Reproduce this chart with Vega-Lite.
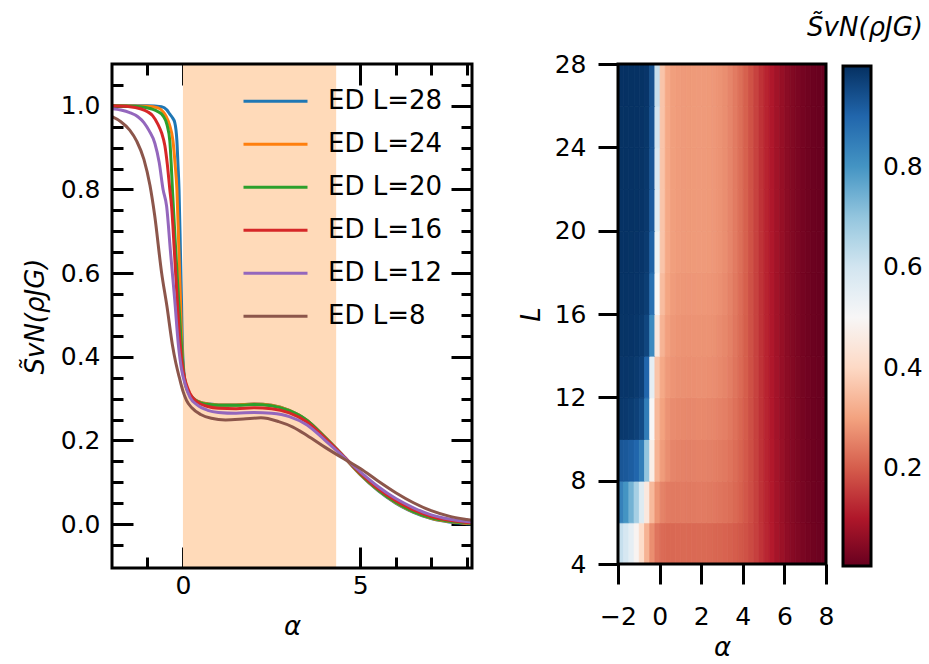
{
  "$schema": "https://vega.github.io/schema/vega-lite/v6.json",
  "background": "white",
  "padding": {"left": 20, "top": 13, "right": 5, "bottom": 5},
  "bounds": "flush",
  "spacing": 146,
  "config": {
    "font": "DejaVu Sans",
    "view": {"stroke": "black", "strokeWidth": 3},
    "style": {"cell": {"strokeForeground": true}},
    "axis": {"domain": false, "grid": false, "labelFlush": false, "tickColor": "black", "tickWidth": 3, "labelFont": "DejaVu Sans", "labelFontSize": 25, "labelColor": "black", "titleFont": "DejaVu Sans", "titleFontSize": 26, "titleFontWeight": "normal", "titleColor": "black"},
    "legend": {"labelFont": "DejaVu Sans", "labelColor": "black", "titleFont": "DejaVu Sans", "titleColor": "black", "titleFontWeight": "normal"}
  },
  "datasets": {
    "shade": [{"a0": 0, "a1": 4.32}],
    "curves": [
      {"s":"ED L=28","a":-2,"v":1.0},{"s":"ED L=28","a":-1,"v":1.0},{"s":"ED L=28","a":-0.6,"v":0.998},{"s":"ED L=28","a":-0.45,"v":0.99},{"s":"ED L=28","a":-0.37,"v":0.98},{"s":"ED L=28","a":-0.3,"v":0.972},{"s":"ED L=28","a":-0.23,"v":0.96},{"s":"ED L=28","a":-0.17,"v":0.916},{"s":"ED L=28","a":-0.14,"v":0.86},{"s":"ED L=28","a":-0.11,"v":0.8},{"s":"ED L=28","a":-0.07,"v":0.65},{"s":"ED L=28","a":-0.04,"v":0.53},{"s":"ED L=28","a":-0.02,"v":0.44},{"s":"ED L=28","a":0,"v":0.395},{"s":"ED L=28","a":0.03,"v":0.36},{"s":"ED L=28","a":0.06,"v":0.342},{"s":"ED L=28","a":0.1,"v":0.327},{"s":"ED L=28","a":0.2,"v":0.31},{"s":"ED L=28","a":0.35,"v":0.297},{"s":"ED L=28","a":0.5,"v":0.291},{"s":"ED L=28","a":0.75,"v":0.287},{"s":"ED L=28","a":1,"v":0.285},{"s":"ED L=28","a":1.5,"v":0.285},{"s":"ED L=28","a":2,"v":0.287},{"s":"ED L=28","a":2.5,"v":0.284},{"s":"ED L=28","a":3,"v":0.272},{"s":"ED L=28","a":3.5,"v":0.248},{"s":"ED L=28","a":4,"v":0.208},{"s":"ED L=28","a":4.5,"v":0.164},{"s":"ED L=28","a":5,"v":0.118},{"s":"ED L=28","a":5.5,"v":0.08},{"s":"ED L=28","a":6,"v":0.05},{"s":"ED L=28","a":6.5,"v":0.028},{"s":"ED L=28","a":7,"v":0.013},{"s":"ED L=28","a":7.5,"v":0.005},{"s":"ED L=28","a":8,"v":0.001},{"s":"ED L=28","a":8.15,"v":0.0},
      {"s":"ED L=24","a":-2,"v":1.0},{"s":"ED L=24","a":-1,"v":0.999},{"s":"ED L=24","a":-0.7,"v":0.995},{"s":"ED L=24","a":-0.55,"v":0.985},{"s":"ED L=24","a":-0.48,"v":0.976},{"s":"ED L=24","a":-0.38,"v":0.955},{"s":"ED L=24","a":-0.28,"v":0.916},{"s":"ED L=24","a":-0.22,"v":0.86},{"s":"ED L=24","a":-0.17,"v":0.8},{"s":"ED L=24","a":-0.12,"v":0.67},{"s":"ED L=24","a":-0.07,"v":0.534},{"s":"ED L=24","a":-0.04,"v":0.45},{"s":"ED L=24","a":-0.01,"v":0.39},{"s":"ED L=24","a":0.03,"v":0.352},{"s":"ED L=24","a":0.08,"v":0.33},{"s":"ED L=24","a":0.15,"v":0.315},{"s":"ED L=24","a":0.25,"v":0.303},{"s":"ED L=24","a":0.4,"v":0.294},{"s":"ED L=24","a":0.6,"v":0.289},{"s":"ED L=24","a":1,"v":0.285},{"s":"ED L=24","a":1.5,"v":0.285},{"s":"ED L=24","a":2,"v":0.287},{"s":"ED L=24","a":2.5,"v":0.284},{"s":"ED L=24","a":3,"v":0.272},{"s":"ED L=24","a":3.5,"v":0.248},{"s":"ED L=24","a":4,"v":0.208},{"s":"ED L=24","a":4.5,"v":0.164},{"s":"ED L=24","a":5,"v":0.119},{"s":"ED L=24","a":5.5,"v":0.081},{"s":"ED L=24","a":6,"v":0.051},{"s":"ED L=24","a":6.5,"v":0.029},{"s":"ED L=24","a":7,"v":0.014},{"s":"ED L=24","a":7.5,"v":0.006},{"s":"ED L=24","a":8,"v":0.002},{"s":"ED L=24","a":8.15,"v":0.001},
      {"s":"ED L=20","a":-2,"v":1.0},{"s":"ED L=20","a":-1.2,"v":0.998},{"s":"ED L=20","a":-0.9,"v":0.993},{"s":"ED L=20","a":-0.7,"v":0.986},{"s":"ED L=20","a":-0.56,"v":0.976},{"s":"ED L=20","a":-0.45,"v":0.955},{"s":"ED L=20","a":-0.37,"v":0.916},{"s":"ED L=20","a":-0.33,"v":0.86},{"s":"ED L=20","a":-0.29,"v":0.79},{"s":"ED L=20","a":-0.2,"v":0.65},{"s":"ED L=20","a":-0.12,"v":0.534},{"s":"ED L=20","a":-0.06,"v":0.45},{"s":"ED L=20","a":-0.02,"v":0.4},{"s":"ED L=20","a":0.03,"v":0.355},{"s":"ED L=20","a":0.1,"v":0.327},{"s":"ED L=20","a":0.15,"v":0.316},{"s":"ED L=20","a":0.3,"v":0.299},{"s":"ED L=20","a":0.5,"v":0.29},{"s":"ED L=20","a":0.75,"v":0.286},{"s":"ED L=20","a":1,"v":0.284},{"s":"ED L=20","a":1.5,"v":0.284},{"s":"ED L=20","a":2,"v":0.286},{"s":"ED L=20","a":2.5,"v":0.283},{"s":"ED L=20","a":3,"v":0.271},{"s":"ED L=20","a":3.5,"v":0.248},{"s":"ED L=20","a":4,"v":0.208},{"s":"ED L=20","a":4.5,"v":0.165},{"s":"ED L=20","a":5,"v":0.12},{"s":"ED L=20","a":5.5,"v":0.082},{"s":"ED L=20","a":6,"v":0.052},{"s":"ED L=20","a":6.5,"v":0.03},{"s":"ED L=20","a":7,"v":0.015},{"s":"ED L=20","a":7.5,"v":0.007},{"s":"ED L=20","a":8,"v":0.003},{"s":"ED L=20","a":8.15,"v":0.002},
      {"s":"ED L=16","a":-2,"v":1.0},{"s":"ED L=16","a":-1.5,"v":0.998},{"s":"ED L=16","a":-1.2,"v":0.993},{"s":"ED L=16","a":-1.0,"v":0.986},{"s":"ED L=16","a":-0.85,"v":0.976},{"s":"ED L=16","a":-0.7,"v":0.955},{"s":"ED L=16","a":-0.6,"v":0.935},{"s":"ED L=16","a":-0.51,"v":0.905},{"s":"ED L=16","a":-0.44,"v":0.86},{"s":"ED L=16","a":-0.37,"v":0.8},{"s":"ED L=16","a":-0.32,"v":0.76},{"s":"ED L=16","a":-0.24,"v":0.65},{"s":"ED L=16","a":-0.16,"v":0.534},{"s":"ED L=16","a":-0.08,"v":0.43},{"s":"ED L=16","a":0,"v":0.37},{"s":"ED L=16","a":0.05,"v":0.348},{"s":"ED L=16","a":0.1,"v":0.333},{"s":"ED L=16","a":0.2,"v":0.312},{"s":"ED L=16","a":0.4,"v":0.292},{"s":"ED L=16","a":0.7,"v":0.281},{"s":"ED L=16","a":1,"v":0.277},{"s":"ED L=16","a":1.5,"v":0.276},{"s":"ED L=16","a":2,"v":0.278},{"s":"ED L=16","a":2.5,"v":0.276},{"s":"ED L=16","a":3,"v":0.266},{"s":"ED L=16","a":3.5,"v":0.244},{"s":"ED L=16","a":4,"v":0.206},{"s":"ED L=16","a":4.5,"v":0.165},{"s":"ED L=16","a":5,"v":0.122},{"s":"ED L=16","a":5.5,"v":0.085},{"s":"ED L=16","a":6,"v":0.056},{"s":"ED L=16","a":6.5,"v":0.034},{"s":"ED L=16","a":7,"v":0.018},{"s":"ED L=16","a":7.5,"v":0.009},{"s":"ED L=16","a":8,"v":0.004},{"s":"ED L=16","a":8.15,"v":0.003},
      {"s":"ED L=12","a":-2,"v":0.993},{"s":"ED L=12","a":-1.75,"v":0.99},{"s":"ED L=12","a":-1.5,"v":0.984},{"s":"ED L=12","a":-1.27,"v":0.974},{"s":"ED L=12","a":-1.1,"v":0.96},{"s":"ED L=12","a":-0.95,"v":0.94},{"s":"ED L=12","a":-0.79,"v":0.91},{"s":"ED L=12","a":-0.67,"v":0.865},{"s":"ED L=12","a":-0.56,"v":0.8},{"s":"ED L=12","a":-0.46,"v":0.76},{"s":"ED L=12","a":-0.35,"v":0.65},{"s":"ED L=12","a":-0.23,"v":0.534},{"s":"ED L=12","a":-0.13,"v":0.43},{"s":"ED L=12","a":-0.04,"v":0.37},{"s":"ED L=12","a":0.06,"v":0.335},{"s":"ED L=12","a":0.2,"v":0.303},{"s":"ED L=12","a":0.4,"v":0.285},{"s":"ED L=12","a":0.7,"v":0.272},{"s":"ED L=12","a":1,"v":0.267},{"s":"ED L=12","a":1.5,"v":0.265},{"s":"ED L=12","a":2,"v":0.267},{"s":"ED L=12","a":2.5,"v":0.265},{"s":"ED L=12","a":3,"v":0.257},{"s":"ED L=12","a":3.5,"v":0.237},{"s":"ED L=12","a":4,"v":0.201},{"s":"ED L=12","a":4.5,"v":0.163},{"s":"ED L=12","a":5,"v":0.125},{"s":"ED L=12","a":5.5,"v":0.09},{"s":"ED L=12","a":6,"v":0.061},{"s":"ED L=12","a":6.5,"v":0.039},{"s":"ED L=12","a":7,"v":0.022},{"s":"ED L=12","a":7.5,"v":0.012},{"s":"ED L=12","a":8,"v":0.006},{"s":"ED L=12","a":8.15,"v":0.005},
      {"s":"ED L=8","a":-2,"v":0.974},{"s":"ED L=8","a":-1.75,"v":0.962},{"s":"ED L=8","a":-1.5,"v":0.942},{"s":"ED L=8","a":-1.3,"v":0.915},{"s":"ED L=8","a":-1.1,"v":0.872},{"s":"ED L=8","a":-0.93,"v":0.81},{"s":"ED L=8","a":-0.8,"v":0.74},{"s":"ED L=8","a":-0.6,"v":0.6},{"s":"ED L=8","a":-0.45,"v":0.52},{"s":"ED L=8","a":-0.3,"v":0.43},{"s":"ED L=8","a":-0.2,"v":0.385},{"s":"ED L=8","a":-0.1,"v":0.35},{"s":"ED L=8","a":0,"v":0.318},{"s":"ED L=8","a":0.1,"v":0.296},{"s":"ED L=8","a":0.25,"v":0.278},{"s":"ED L=8","a":0.5,"v":0.262},{"s":"ED L=8","a":0.8,"v":0.253},{"s":"ED L=8","a":1.2,"v":0.249},{"s":"ED L=8","a":1.7,"v":0.251},{"s":"ED L=8","a":2.2,"v":0.254},{"s":"ED L=8","a":2.7,"v":0.245},{"s":"ED L=8","a":3.1,"v":0.232},{"s":"ED L=8","a":3.5,"v":0.212},{"s":"ED L=8","a":4,"v":0.184},{"s":"ED L=8","a":4.5,"v":0.158},{"s":"ED L=8","a":5,"v":0.133},{"s":"ED L=8","a":5.5,"v":0.103},{"s":"ED L=8","a":6,"v":0.075},{"s":"ED L=8","a":6.5,"v":0.051},{"s":"ED L=8","a":7,"v":0.032},{"s":"ED L=8","a":7.5,"v":0.019},{"s":"ED L=8","a":8,"v":0.011},{"s":"ED L=8","a":8.15,"v":0.009}
    ],
    "heat": [
      {"a":-1.875,"L":4,"v":0.62},{"a":-1.625,"L":4,"v":0.59},{"a":-1.375,"L":4,"v":0.55},{"a":-1.125,"L":4,"v":0.49},{"a":-0.875,"L":4,"v":0.41},{"a":-0.625,"L":4,"v":0.33},{"a":-0.375,"L":4,"v":0.27},{"a":-0.125,"L":4,"v":0.235},{"a":0.125,"L":4,"v":0.22},{"a":0.375,"L":4,"v":0.215},{"a":0.625,"L":4,"v":0.215},{"a":0.875,"L":4,"v":0.217},{"a":1.125,"L":4,"v":0.218},{"a":1.375,"L":4,"v":0.217},{"a":1.625,"L":4,"v":0.217},{"a":1.875,"L":4,"v":0.218},{"a":2.125,"L":4,"v":0.218},{"a":2.375,"L":4,"v":0.217},{"a":2.625,"L":4,"v":0.214},{"a":2.875,"L":4,"v":0.212},{"a":3.125,"L":4,"v":0.209},{"a":3.375,"L":4,"v":0.205},{"a":3.625,"L":4,"v":0.2},{"a":3.875,"L":4,"v":0.193},{"a":4.125,"L":4,"v":0.184},{"a":4.375,"L":4,"v":0.173},{"a":4.625,"L":4,"v":0.16},{"a":4.875,"L":4,"v":0.142},{"a":5.125,"L":4,"v":0.124},{"a":5.375,"L":4,"v":0.106},{"a":5.625,"L":4,"v":0.089},{"a":5.875,"L":4,"v":0.074},{"a":6.125,"L":4,"v":0.06},{"a":6.375,"L":4,"v":0.048},{"a":6.625,"L":4,"v":0.038},{"a":6.875,"L":4,"v":0.03},{"a":7.125,"L":4,"v":0.023},{"a":7.375,"L":4,"v":0.017},{"a":7.625,"L":4,"v":0.013},{"a":7.875,"L":4,"v":0.01},
      {"a":-1.875,"L":6,"v":0.84},{"a":-1.625,"L":6,"v":0.8},{"a":-1.375,"L":6,"v":0.74},{"a":-1.125,"L":6,"v":0.67},{"a":-0.875,"L":6,"v":0.57},{"a":-0.625,"L":6,"v":0.45},{"a":-0.375,"L":6,"v":0.34},{"a":-0.125,"L":6,"v":0.28},{"a":0.125,"L":6,"v":0.255},{"a":0.375,"L":6,"v":0.243},{"a":0.625,"L":6,"v":0.241},{"a":0.875,"L":6,"v":0.242},{"a":1.125,"L":6,"v":0.243},{"a":1.375,"L":6,"v":0.242},{"a":1.625,"L":6,"v":0.242},{"a":1.875,"L":6,"v":0.243},{"a":2.125,"L":6,"v":0.243},{"a":2.375,"L":6,"v":0.242},{"a":2.625,"L":6,"v":0.239},{"a":2.875,"L":6,"v":0.234},{"a":3.125,"L":6,"v":0.23},{"a":3.375,"L":6,"v":0.225},{"a":3.625,"L":6,"v":0.217},{"a":3.875,"L":6,"v":0.206},{"a":4.125,"L":6,"v":0.192},{"a":4.375,"L":6,"v":0.178},{"a":4.625,"L":6,"v":0.161},{"a":4.875,"L":6,"v":0.141},{"a":5.125,"L":6,"v":0.122},{"a":5.375,"L":6,"v":0.104},{"a":5.625,"L":6,"v":0.087},{"a":5.875,"L":6,"v":0.071},{"a":6.125,"L":6,"v":0.057},{"a":6.375,"L":6,"v":0.045},{"a":6.625,"L":6,"v":0.035},{"a":6.875,"L":6,"v":0.027},{"a":7.125,"L":6,"v":0.02},{"a":7.375,"L":6,"v":0.015},{"a":7.625,"L":6,"v":0.011},{"a":7.875,"L":6,"v":0.008},
      {"a":-1.875,"L":8,"v":0.93},{"a":-1.625,"L":8,"v":0.925},{"a":-1.375,"L":8,"v":0.915},{"a":-1.125,"L":8,"v":0.9},{"a":-0.875,"L":8,"v":0.85},{"a":-0.625,"L":8,"v":0.7},{"a":-0.375,"L":8,"v":0.47},{"a":-0.125,"L":8,"v":0.33},{"a":0.125,"L":8,"v":0.29},{"a":0.375,"L":8,"v":0.27},{"a":0.625,"L":8,"v":0.258},{"a":0.875,"L":8,"v":0.254},{"a":1.125,"L":8,"v":0.253},{"a":1.375,"L":8,"v":0.252},{"a":1.625,"L":8,"v":0.252},{"a":1.875,"L":8,"v":0.253},{"a":2.125,"L":8,"v":0.253},{"a":2.375,"L":8,"v":0.252},{"a":2.625,"L":8,"v":0.249},{"a":2.875,"L":8,"v":0.244},{"a":3.125,"L":8,"v":0.24},{"a":3.375,"L":8,"v":0.233},{"a":3.625,"L":8,"v":0.223},{"a":3.875,"L":8,"v":0.21},{"a":4.125,"L":8,"v":0.195},{"a":4.375,"L":8,"v":0.179},{"a":4.625,"L":8,"v":0.161},{"a":4.875,"L":8,"v":0.141},{"a":5.125,"L":8,"v":0.121},{"a":5.375,"L":8,"v":0.103},{"a":5.625,"L":8,"v":0.086},{"a":5.875,"L":8,"v":0.07},{"a":6.125,"L":8,"v":0.056},{"a":6.375,"L":8,"v":0.044},{"a":6.625,"L":8,"v":0.034},{"a":6.875,"L":8,"v":0.026},{"a":7.125,"L":8,"v":0.019},{"a":7.375,"L":8,"v":0.014},{"a":7.625,"L":8,"v":0.01},{"a":7.875,"L":8,"v":0.007},
      {"a":-1.875,"L":10,"v":0.985},{"a":-1.625,"L":10,"v":0.983},{"a":-1.375,"L":10,"v":0.978},{"a":-1.125,"L":10,"v":0.968},{"a":-0.875,"L":10,"v":0.95},{"a":-0.625,"L":10,"v":0.85},{"a":-0.375,"L":10,"v":0.5},{"a":-0.125,"L":10,"v":0.34},{"a":0.125,"L":10,"v":0.3},{"a":0.375,"L":10,"v":0.278},{"a":0.625,"L":10,"v":0.268},{"a":0.875,"L":10,"v":0.264},{"a":1.125,"L":10,"v":0.263},{"a":1.375,"L":10,"v":0.262},{"a":1.625,"L":10,"v":0.262},{"a":1.875,"L":10,"v":0.263},{"a":2.125,"L":10,"v":0.263},{"a":2.375,"L":10,"v":0.262},{"a":2.625,"L":10,"v":0.259},{"a":2.875,"L":10,"v":0.253},{"a":3.125,"L":10,"v":0.249},{"a":3.375,"L":10,"v":0.24},{"a":3.625,"L":10,"v":0.229},{"a":3.875,"L":10,"v":0.214},{"a":4.125,"L":10,"v":0.198},{"a":4.375,"L":10,"v":0.18},{"a":4.625,"L":10,"v":0.161},{"a":4.875,"L":10,"v":0.14},{"a":5.125,"L":10,"v":0.121},{"a":5.375,"L":10,"v":0.102},{"a":5.625,"L":10,"v":0.085},{"a":5.875,"L":10,"v":0.069},{"a":6.125,"L":10,"v":0.055},{"a":6.375,"L":10,"v":0.043},{"a":6.625,"L":10,"v":0.033},{"a":6.875,"L":10,"v":0.025},{"a":7.125,"L":10,"v":0.018},{"a":7.375,"L":10,"v":0.013},{"a":7.625,"L":10,"v":0.009},{"a":7.875,"L":10,"v":0.006},
      {"a":-1.875,"L":12,"v":0.99},{"a":-1.625,"L":12,"v":0.99},{"a":-1.375,"L":12,"v":0.988},{"a":-1.125,"L":12,"v":0.982},{"a":-0.875,"L":12,"v":0.97},{"a":-0.625,"L":12,"v":0.9},{"a":-0.375,"L":12,"v":0.55},{"a":-0.125,"L":12,"v":0.36},{"a":0.125,"L":12,"v":0.31},{"a":0.375,"L":12,"v":0.288},{"a":0.625,"L":12,"v":0.279},{"a":0.875,"L":12,"v":0.275},{"a":1.125,"L":12,"v":0.273},{"a":1.375,"L":12,"v":0.272},{"a":1.625,"L":12,"v":0.272},{"a":1.875,"L":12,"v":0.273},{"a":2.125,"L":12,"v":0.273},{"a":2.375,"L":12,"v":0.272},{"a":2.625,"L":12,"v":0.269},{"a":2.875,"L":12,"v":0.263},{"a":3.125,"L":12,"v":0.257},{"a":3.375,"L":12,"v":0.247},{"a":3.625,"L":12,"v":0.234},{"a":3.875,"L":12,"v":0.219},{"a":4.125,"L":12,"v":0.201},{"a":4.375,"L":12,"v":0.182},{"a":4.625,"L":12,"v":0.162},{"a":4.875,"L":12,"v":0.14},{"a":5.125,"L":12,"v":0.12},{"a":5.375,"L":12,"v":0.101},{"a":5.625,"L":12,"v":0.084},{"a":5.875,"L":12,"v":0.068},{"a":6.125,"L":12,"v":0.054},{"a":6.375,"L":12,"v":0.042},{"a":6.625,"L":12,"v":0.032},{"a":6.875,"L":12,"v":0.024},{"a":7.125,"L":12,"v":0.018},{"a":7.375,"L":12,"v":0.013},{"a":7.625,"L":12,"v":0.009},{"a":7.875,"L":12,"v":0.006},
      {"a":-1.875,"L":14,"v":0.993},{"a":-1.625,"L":14,"v":0.993},{"a":-1.375,"L":14,"v":0.992},{"a":-1.125,"L":14,"v":0.989},{"a":-0.875,"L":14,"v":0.982},{"a":-0.625,"L":14,"v":0.96},{"a":-0.375,"L":14,"v":0.82},{"a":-0.125,"L":14,"v":0.45},{"a":0.125,"L":14,"v":0.33},{"a":0.375,"L":14,"v":0.297},{"a":0.625,"L":14,"v":0.285},{"a":0.875,"L":14,"v":0.28},{"a":1.125,"L":14,"v":0.278},{"a":1.375,"L":14,"v":0.277},{"a":1.625,"L":14,"v":0.277},{"a":1.875,"L":14,"v":0.278},{"a":2.125,"L":14,"v":0.278},{"a":2.375,"L":14,"v":0.277},{"a":2.625,"L":14,"v":0.274},{"a":2.875,"L":14,"v":0.268},{"a":3.125,"L":14,"v":0.261},{"a":3.375,"L":14,"v":0.251},{"a":3.625,"L":14,"v":0.237},{"a":3.875,"L":14,"v":0.221},{"a":4.125,"L":14,"v":0.202},{"a":4.375,"L":14,"v":0.183},{"a":4.625,"L":14,"v":0.162},{"a":4.875,"L":14,"v":0.14},{"a":5.125,"L":14,"v":0.12},{"a":5.375,"L":14,"v":0.101},{"a":5.625,"L":14,"v":0.083},{"a":5.875,"L":14,"v":0.067},{"a":6.125,"L":14,"v":0.053},{"a":6.375,"L":14,"v":0.041},{"a":6.625,"L":14,"v":0.031},{"a":6.875,"L":14,"v":0.023},{"a":7.125,"L":14,"v":0.017},{"a":7.375,"L":14,"v":0.012},{"a":7.625,"L":14,"v":0.008},{"a":7.875,"L":14,"v":0.005},
      {"a":-1.875,"L":16,"v":0.995},{"a":-1.625,"L":16,"v":0.995},{"a":-1.375,"L":16,"v":0.994},{"a":-1.125,"L":16,"v":0.992},{"a":-0.875,"L":16,"v":0.987},{"a":-0.625,"L":16,"v":0.975},{"a":-0.375,"L":16,"v":0.88},{"a":-0.125,"L":16,"v":0.5},{"a":0.125,"L":16,"v":0.345},{"a":0.375,"L":16,"v":0.305},{"a":0.625,"L":16,"v":0.29},{"a":0.875,"L":16,"v":0.285},{"a":1.125,"L":16,"v":0.283},{"a":1.375,"L":16,"v":0.282},{"a":1.625,"L":16,"v":0.282},{"a":1.875,"L":16,"v":0.283},{"a":2.125,"L":16,"v":0.283},{"a":2.375,"L":16,"v":0.282},{"a":2.625,"L":16,"v":0.279},{"a":2.875,"L":16,"v":0.273},{"a":3.125,"L":16,"v":0.266},{"a":3.375,"L":16,"v":0.254},{"a":3.625,"L":16,"v":0.24},{"a":3.875,"L":16,"v":0.223},{"a":4.125,"L":16,"v":0.204},{"a":4.375,"L":16,"v":0.183},{"a":4.625,"L":16,"v":0.162},{"a":4.875,"L":16,"v":0.14},{"a":5.125,"L":16,"v":0.12},{"a":5.375,"L":16,"v":0.101},{"a":5.625,"L":16,"v":0.083},{"a":5.875,"L":16,"v":0.067},{"a":6.125,"L":16,"v":0.053},{"a":6.375,"L":16,"v":0.041},{"a":6.625,"L":16,"v":0.031},{"a":6.875,"L":16,"v":0.023},{"a":7.125,"L":16,"v":0.017},{"a":7.375,"L":16,"v":0.012},{"a":7.625,"L":16,"v":0.008},{"a":7.875,"L":16,"v":0.005},
      {"a":-1.875,"L":18,"v":0.996},{"a":-1.625,"L":18,"v":0.996},{"a":-1.375,"L":18,"v":0.995},{"a":-1.125,"L":18,"v":0.994},{"a":-0.875,"L":18,"v":0.99},{"a":-0.625,"L":18,"v":0.98},{"a":-0.375,"L":18,"v":0.91},{"a":-0.125,"L":18,"v":0.53},{"a":0.125,"L":18,"v":0.36},{"a":0.375,"L":18,"v":0.31},{"a":0.625,"L":18,"v":0.295},{"a":0.875,"L":18,"v":0.29},{"a":1.125,"L":18,"v":0.288},{"a":1.375,"L":18,"v":0.287},{"a":1.625,"L":18,"v":0.287},{"a":1.875,"L":18,"v":0.288},{"a":2.125,"L":18,"v":0.288},{"a":2.375,"L":18,"v":0.287},{"a":2.625,"L":18,"v":0.284},{"a":2.875,"L":18,"v":0.278},{"a":3.125,"L":18,"v":0.27},{"a":3.375,"L":18,"v":0.258},{"a":3.625,"L":18,"v":0.243},{"a":3.875,"L":18,"v":0.225},{"a":4.125,"L":18,"v":0.205},{"a":4.375,"L":18,"v":0.184},{"a":4.625,"L":18,"v":0.162},{"a":4.875,"L":18,"v":0.14},{"a":5.125,"L":18,"v":0.12},{"a":5.375,"L":18,"v":0.101},{"a":5.625,"L":18,"v":0.083},{"a":5.875,"L":18,"v":0.067},{"a":6.125,"L":18,"v":0.053},{"a":6.375,"L":18,"v":0.041},{"a":6.625,"L":18,"v":0.031},{"a":6.875,"L":18,"v":0.023},{"a":7.125,"L":18,"v":0.017},{"a":7.375,"L":18,"v":0.012},{"a":7.625,"L":18,"v":0.008},{"a":7.875,"L":18,"v":0.005},
      {"a":-1.875,"L":20,"v":0.996},{"a":-1.625,"L":20,"v":0.996},{"a":-1.375,"L":20,"v":0.996},{"a":-1.125,"L":20,"v":0.995},{"a":-0.875,"L":20,"v":0.992},{"a":-0.625,"L":20,"v":0.984},{"a":-0.375,"L":20,"v":0.92},{"a":-0.125,"L":20,"v":0.56},{"a":0.125,"L":20,"v":0.36},{"a":0.375,"L":20,"v":0.31},{"a":0.625,"L":20,"v":0.295},{"a":0.875,"L":20,"v":0.29},{"a":1.125,"L":20,"v":0.288},{"a":1.375,"L":20,"v":0.287},{"a":1.625,"L":20,"v":0.287},{"a":1.875,"L":20,"v":0.288},{"a":2.125,"L":20,"v":0.288},{"a":2.375,"L":20,"v":0.287},{"a":2.625,"L":20,"v":0.284},{"a":2.875,"L":20,"v":0.278},{"a":3.125,"L":20,"v":0.27},{"a":3.375,"L":20,"v":0.258},{"a":3.625,"L":20,"v":0.243},{"a":3.875,"L":20,"v":0.225},{"a":4.125,"L":20,"v":0.205},{"a":4.375,"L":20,"v":0.184},{"a":4.625,"L":20,"v":0.162},{"a":4.875,"L":20,"v":0.14},{"a":5.125,"L":20,"v":0.12},{"a":5.375,"L":20,"v":0.101},{"a":5.625,"L":20,"v":0.083},{"a":5.875,"L":20,"v":0.067},{"a":6.125,"L":20,"v":0.053},{"a":6.375,"L":20,"v":0.041},{"a":6.625,"L":20,"v":0.031},{"a":6.875,"L":20,"v":0.023},{"a":7.125,"L":20,"v":0.017},{"a":7.375,"L":20,"v":0.012},{"a":7.625,"L":20,"v":0.008},{"a":7.875,"L":20,"v":0.005},
      {"a":-1.875,"L":22,"v":0.997},{"a":-1.625,"L":22,"v":0.997},{"a":-1.375,"L":22,"v":0.996},{"a":-1.125,"L":22,"v":0.995},{"a":-0.875,"L":22,"v":0.993},{"a":-0.625,"L":22,"v":0.986},{"a":-0.375,"L":22,"v":0.93},{"a":-0.125,"L":22,"v":0.58},{"a":0.125,"L":22,"v":0.36},{"a":0.375,"L":22,"v":0.31},{"a":0.625,"L":22,"v":0.295},{"a":0.875,"L":22,"v":0.29},{"a":1.125,"L":22,"v":0.288},{"a":1.375,"L":22,"v":0.287},{"a":1.625,"L":22,"v":0.287},{"a":1.875,"L":22,"v":0.288},{"a":2.125,"L":22,"v":0.288},{"a":2.375,"L":22,"v":0.287},{"a":2.625,"L":22,"v":0.284},{"a":2.875,"L":22,"v":0.278},{"a":3.125,"L":22,"v":0.27},{"a":3.375,"L":22,"v":0.258},{"a":3.625,"L":22,"v":0.243},{"a":3.875,"L":22,"v":0.225},{"a":4.125,"L":22,"v":0.205},{"a":4.375,"L":22,"v":0.184},{"a":4.625,"L":22,"v":0.162},{"a":4.875,"L":22,"v":0.14},{"a":5.125,"L":22,"v":0.12},{"a":5.375,"L":22,"v":0.101},{"a":5.625,"L":22,"v":0.083},{"a":5.875,"L":22,"v":0.067},{"a":6.125,"L":22,"v":0.053},{"a":6.375,"L":22,"v":0.041},{"a":6.625,"L":22,"v":0.031},{"a":6.875,"L":22,"v":0.023},{"a":7.125,"L":22,"v":0.017},{"a":7.375,"L":22,"v":0.012},{"a":7.625,"L":22,"v":0.008},{"a":7.875,"L":22,"v":0.005},
      {"a":-1.875,"L":24,"v":0.997},{"a":-1.625,"L":24,"v":0.997},{"a":-1.375,"L":24,"v":0.997},{"a":-1.125,"L":24,"v":0.996},{"a":-0.875,"L":24,"v":0.994},{"a":-0.625,"L":24,"v":0.988},{"a":-0.375,"L":24,"v":0.935},{"a":-0.125,"L":24,"v":0.6},{"a":0.125,"L":24,"v":0.36},{"a":0.375,"L":24,"v":0.31},{"a":0.625,"L":24,"v":0.295},{"a":0.875,"L":24,"v":0.29},{"a":1.125,"L":24,"v":0.288},{"a":1.375,"L":24,"v":0.287},{"a":1.625,"L":24,"v":0.287},{"a":1.875,"L":24,"v":0.288},{"a":2.125,"L":24,"v":0.288},{"a":2.375,"L":24,"v":0.287},{"a":2.625,"L":24,"v":0.284},{"a":2.875,"L":24,"v":0.278},{"a":3.125,"L":24,"v":0.27},{"a":3.375,"L":24,"v":0.258},{"a":3.625,"L":24,"v":0.243},{"a":3.875,"L":24,"v":0.225},{"a":4.125,"L":24,"v":0.205},{"a":4.375,"L":24,"v":0.184},{"a":4.625,"L":24,"v":0.162},{"a":4.875,"L":24,"v":0.14},{"a":5.125,"L":24,"v":0.12},{"a":5.375,"L":24,"v":0.101},{"a":5.625,"L":24,"v":0.083},{"a":5.875,"L":24,"v":0.067},{"a":6.125,"L":24,"v":0.053},{"a":6.375,"L":24,"v":0.041},{"a":6.625,"L":24,"v":0.031},{"a":6.875,"L":24,"v":0.023},{"a":7.125,"L":24,"v":0.017},{"a":7.375,"L":24,"v":0.012},{"a":7.625,"L":24,"v":0.008},{"a":7.875,"L":24,"v":0.005},
      {"a":-1.875,"L":26,"v":0.998},{"a":-1.625,"L":26,"v":0.998},{"a":-1.375,"L":26,"v":0.997},{"a":-1.125,"L":26,"v":0.996},{"a":-0.875,"L":26,"v":0.995},{"a":-0.625,"L":26,"v":0.99},{"a":-0.375,"L":26,"v":0.94},{"a":-0.125,"L":26,"v":0.62},{"a":0.125,"L":26,"v":0.36},{"a":0.375,"L":26,"v":0.31},{"a":0.625,"L":26,"v":0.295},{"a":0.875,"L":26,"v":0.29},{"a":1.125,"L":26,"v":0.288},{"a":1.375,"L":26,"v":0.287},{"a":1.625,"L":26,"v":0.287},{"a":1.875,"L":26,"v":0.288},{"a":2.125,"L":26,"v":0.288},{"a":2.375,"L":26,"v":0.287},{"a":2.625,"L":26,"v":0.284},{"a":2.875,"L":26,"v":0.278},{"a":3.125,"L":26,"v":0.27},{"a":3.375,"L":26,"v":0.258},{"a":3.625,"L":26,"v":0.243},{"a":3.875,"L":26,"v":0.225},{"a":4.125,"L":26,"v":0.205},{"a":4.375,"L":26,"v":0.184},{"a":4.625,"L":26,"v":0.162},{"a":4.875,"L":26,"v":0.14},{"a":5.125,"L":26,"v":0.12},{"a":5.375,"L":26,"v":0.101},{"a":5.625,"L":26,"v":0.083},{"a":5.875,"L":26,"v":0.067},{"a":6.125,"L":26,"v":0.053},{"a":6.375,"L":26,"v":0.041},{"a":6.625,"L":26,"v":0.031},{"a":6.875,"L":26,"v":0.023},{"a":7.125,"L":26,"v":0.017},{"a":7.375,"L":26,"v":0.012},{"a":7.625,"L":26,"v":0.008},{"a":7.875,"L":26,"v":0.005}
    ]
  },
  "hconcat": [
    {
      "width": 360,
      "height": 504,
      "layer": [
        {
          "data": {"name": "shade"},
          "mark": {"type": "rect", "color": "#ffdab9"},
          "encoding": {
            "x": {"field": "a0", "type": "quantitative", "scale": {"domain": [-2, 8.15], "nice": false, "zero": false},
                  "axis": {"orient": "bottom", "values": [0, 5], "format": "d", "tickSize": 21, "offset": -21, "labelPadding": 5, "title": "α", "titleFontStyle": "italic", "titlePadding": 15}},
            "x2": {"field": "a1"}
          }
        },
        {
          "data": {"name": "curves"},
          "mark": {"type": "line", "strokeWidth": 3, "interpolate": "monotone", "clip": true},
          "encoding": {
            "x": {"field": "a", "type": "quantitative", "axis": {"orient": "top", "values": [0, 5], "tickSize": 21, "offset": -21, "labels": false, "title": null}},
            "y": {"field": "v", "type": "quantitative", "scale": {"domain": [-0.105, 1.1], "nice": false, "zero": false},
                  "axis": {"orient": "left", "values": [0, 0.2, 0.4, 0.6, 0.8, 1.0], "format": ".1f", "tickSize": 21, "offset": -21, "labelPadding": 12, "title": "S̃vN(ρJG)", "titleFontStyle": "italic", "titlePadding": 12}},
            "color": {"field": "s", "type": "nominal",
                      "scale": {"domain": ["ED L=28", "ED L=24", "ED L=20", "ED L=16", "ED L=12", "ED L=8"], "range": ["#1f77b4", "#ff7f0e", "#2ca02c", "#d62728", "#9467bd", "#8c564b"]},
                      "legend": {"orient": "none", "legendX": 130, "legendY": 16, "title": null, "padding": 0, "symbolType": "stroke", "symbolSize": 4096, "symbolStrokeWidth": 3, "labelFontSize": 26, "labelOffset": 19, "clipHeight": 42.5, "rowPadding": 0}}
          }
        },
        {
          "data": {"name": "curves"},
          "mark": {"type": "line", "opacity": 0},
          "encoding": {
            "x": {"field": "a", "type": "quantitative", "axis": {"orient": "bottom", "values": [-1, 1, 2, 3, 4, 6, 7, 8], "tickSize": 11, "offset": -11, "labels": false, "title": null}},
            "y": {"field": "v", "type": "quantitative", "axis": {"orient": "right", "values": [0, 0.2, 0.4, 0.6, 0.8, 1.0], "tickSize": 21, "offset": -21, "labels": false, "title": null}},
            "detail": {"field": "s"}
          }
        },
        {
          "data": {"name": "curves"},
          "mark": {"type": "line", "opacity": 0},
          "encoding": {
            "x": {"field": "a", "type": "quantitative", "axis": {"orient": "top", "values": [-1, 1, 2, 3, 4, 6, 7, 8], "tickSize": 11, "offset": -11, "labels": false, "title": null}},
            "y": {"field": "v", "type": "quantitative", "axis": {"orient": "left", "values": [-0.05, 0.05, 0.1, 0.15, 0.25, 0.3, 0.35, 0.45, 0.5, 0.55, 0.65, 0.7, 0.75, 0.85, 0.9, 0.95, 1.05], "tickSize": 11, "offset": -11, "labels": false, "title": null}},
            "detail": {"field": "s"}
          }
        },
        {
          "data": {"name": "curves"},
          "mark": {"type": "line", "opacity": 0},
          "encoding": {
            "x": {"field": "a", "type": "quantitative", "axis": null},
            "y": {"field": "v", "type": "quantitative", "axis": {"orient": "right", "values": [-0.05, 0.05, 0.1, 0.15, 0.25, 0.3, 0.35, 0.45, 0.5, 0.55, 0.65, 0.7, 0.75, 0.85, 0.9, 0.95, 1.05], "tickSize": 11, "offset": -11, "labels": false, "title": null}},
            "detail": {"field": "s"}
          }
        }
      ],
      "resolve": {"axis": {"x": "independent", "y": "independent"}}
    },
    {
      "width": 208,
      "height": 500,
      "data": {"name": "heat"},
      "mark": {"type": "rect", "binSpacing": 0, "strokeWidth": 0.8},
      "encoding": {
        "x": {"field": "a", "type": "quantitative", "bin": {"step": 0.25, "extent": [-2, 8], "nice": false},
              "scale": {"domain": [-2, 8], "nice": false, "zero": false},
              "axis": {"values": [-2, 0, 2, 4, 6, 8], "format": "d", "tickSize": 20, "labelPadding": 20, "title": "α", "titleFontStyle": "italic", "titlePadding": 5}},
        "y": {"field": "L", "type": "quantitative", "bin": {"step": 2, "extent": [4, 28], "nice": false},
              "scale": {"domain": [4, 28], "nice": false, "zero": false},
              "axis": {"values": [4, 8, 12, 16, 20, 24, 28], "format": "d", "tickSize": 20, "labelPadding": 12, "title": "L", "titleFontStyle": "italic", "titlePadding": 10}},
        "stroke": {"field": "v", "type": "quantitative", "scale": {"domain": [0.005, 1.0], "range": ["#67001f", "#b2182b", "#d6604d", "#f4a582", "#fddbc7", "#f7f7f7", "#d1e5f0", "#92c5de", "#4393c3", "#2166ac", "#053061"], "interpolate": "rgb"}, "legend": null},
        "color": {"field": "v", "type": "quantitative",
                  "scale": {"domain": [0.005, 1.0], "range": ["#67001f", "#b2182b", "#d6604d", "#f4a582", "#fddbc7", "#f7f7f7", "#d1e5f0", "#92c5de", "#4393c3", "#2166ac", "#053061"], "interpolate": "rgb"},
                  "legend": {"orient": "none", "legendX": 189, "legendY": -49, "direction": "vertical", "gradientLength": 500, "gradientThickness": 28, "gradientStrokeColor": "black", "gradientStrokeWidth": 3, "values": [0.2, 0.4, 0.6, 0.8], "format": ".1f", "labelFontSize": 25, "labelOffset": 12, "labelBaseline": "middle", "labelOverlap": false, "title": "S̃vN(ρJG)", "titleFontSize": 26, "titleFontStyle": "italic", "titleAnchor": "end", "titlePadding": 25, "padding": 0}}
      }
    }
  ]
}
